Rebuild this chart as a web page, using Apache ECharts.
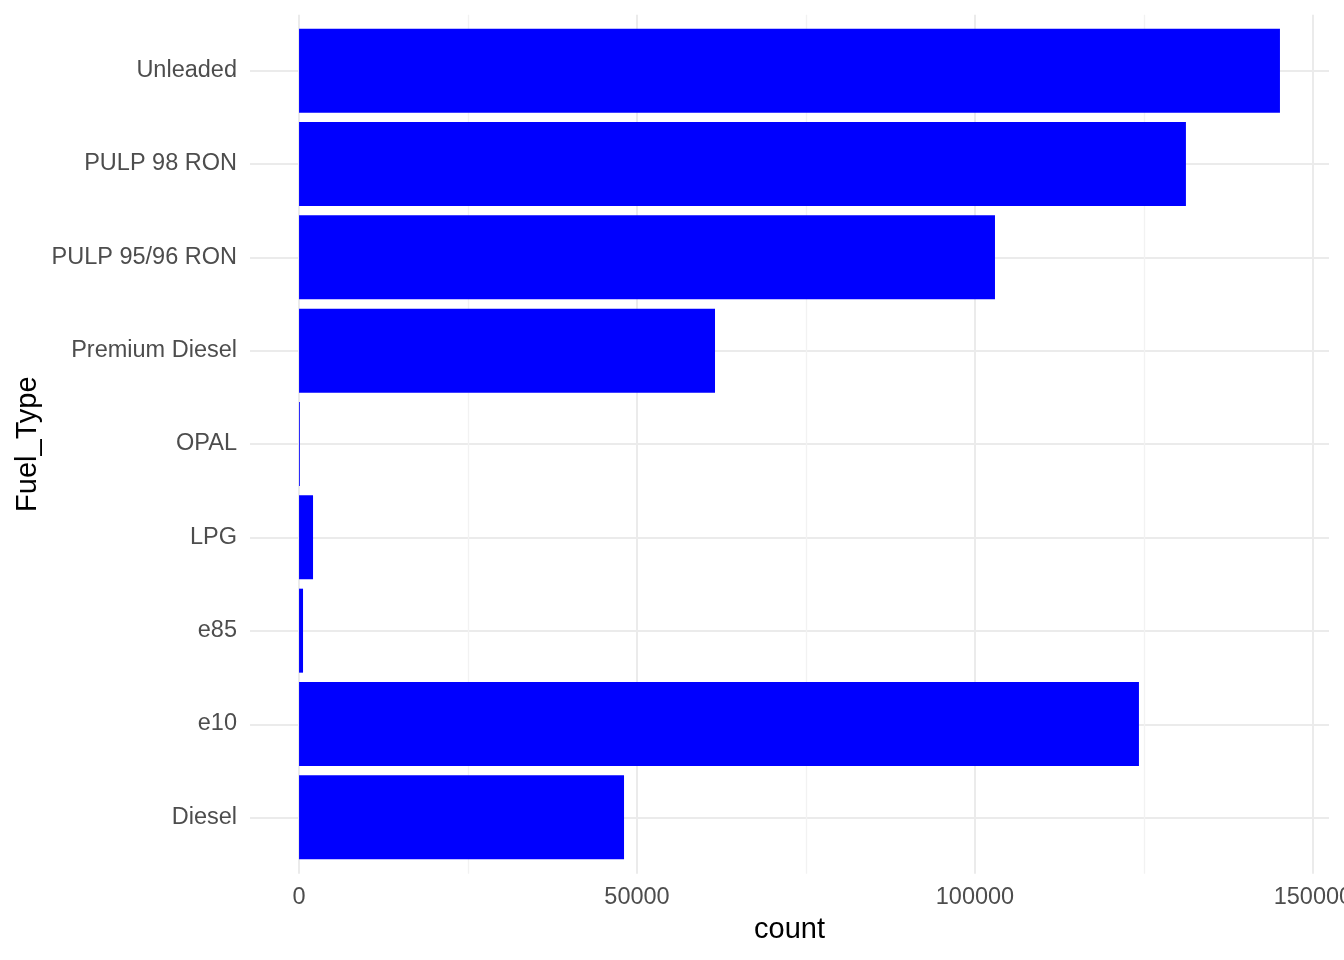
<!DOCTYPE html>
<html>
<head>
<meta charset="utf-8">
<script src="https://cdn.jsdelivr.net/npm/echarts@6/dist/echarts.min.js"></script>
<style>
html,body{margin:0;padding:0;background:#fff;}
#c{width:1344px;height:960px;}
</style>
</head>
<body>
<div id="c"></div>
<script>
const categories = ['Diesel','e10','e85','LPG','OPAL','Premium Diesel','PULP 95/96 RON','PULP 98 RON','Unleaded'];
const counts = [48080, 124260, 590, 2070, 120, 61540, 102960, 131210, 145120];
const majorTicks = [0, 50000, 100000, 150000];
const minorTicks = [25000, 75000, 125000];

const xMin = -7256, xMax = 152376;
const font = 'Liberation Sans, Arial, Helvetica, sans-serif';
const gridColor = '#EBEBEB';
const catPositions = categories.map((_, i) => i + 1);

const chart = echarts.init(document.getElementById('c'));
chart.setOption({
  animation: false,
  backgroundColor: '#ffffff',
  grid: [
    {left: 250, right: 15, top: 24, bottom: 96, containLabel: false, outerBoundsMode: 'none'},
    {left: 250, right: 15, top: 14.7, bottom: 86.3, containLabel: false, outerBoundsMode: 'none'}
  ],
  xAxis: [
    {
      type: 'value', gridIndex: 0, min: xMin, max: xMax,
      axisLine: {show: false}, axisTick: {show: false}, axisLabel: {show: false}, splitLine: {show: false}
    },
    {
      type: 'value', gridIndex: 1, min: xMin, max: xMax, position: 'bottom',
      axisLine: {show: false},
      axisTick: {show: false, customValues: majorTicks},
      axisLabel: {show: true, customValues: majorTicks, color: '#4D4D4D', fontSize: 23.5, fontFamily: font, margin: 12,
        formatter: v => String(v)},
      splitLine: {show: true, lineStyle: {color: gridColor, width: 2}},
      name: 'count', nameLocation: 'middle', nameGap: 42,
      nameTextStyle: {color: '#000', fontSize: 29, fontFamily: font}
    },
    {
      type: 'value', gridIndex: 1, min: xMin, max: xMax, position: 'bottom',
      axisLine: {show: false},
      axisTick: {show: false, customValues: minorTicks},
      axisLabel: {show: false, customValues: minorTicks},
      splitLine: {show: true, lineStyle: {color: '#F2F2F2', width: 1.3}}
    }
  ],
  yAxis: [
    {
      type: 'category', gridIndex: 0, data: categories,
      axisLine: {show: false}, axisTick: {show: false},
      axisLabel: {color: '#4D4D4D', fontSize: 23.5, fontFamily: font, margin: 13, padding: [4, 0, 0, 0]},
      splitLine: {show: false}
    },
    {
      type: 'value', gridIndex: 1, min: 0.4, max: 9.6,
      axisLine: {show: false},
      axisTick: {show: false, customValues: catPositions},
      axisLabel: {show: false, customValues: catPositions},
      splitLine: {show: true, lineStyle: {color: gridColor, width: 2}},
      name: 'Fuel_Type', nameLocation: 'middle', nameRotate: 90, nameGap: 208,
      nameTextStyle: {color: '#000', fontSize: 29, fontFamily: font}
    }
  ],
  series: [
    {
      type: 'bar', xAxisIndex: 0, yAxisIndex: 0,
      data: counts,
      barCategoryGap: '10%',
      itemStyle: {color: '#0000FF'},
      z: 5
    }
  ]
});
</script>
</body>
</html>
